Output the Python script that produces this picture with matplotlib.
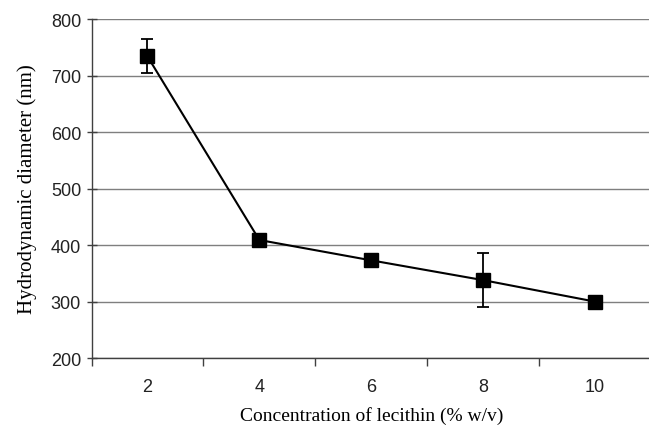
import matplotlib
matplotlib.use("Agg")
import matplotlib.pyplot as plt
import numpy as np

# данные графика
concentration = ["2", "4", "6", "8", "10"]
diameter = [734, 409, 373, 338, 300]
diameter_err = [30, 4, 4, 48, 3]

fig = plt.figure(figsize=(6.49, 4.27), dpi=100)
ax = fig.add_axes([0.141, 0.159, 0.862, 0.794])

x = np.arange(len(concentration))
ax.errorbar(x, diameter, yerr=diameter_err, color="black", lw=1.5,
            marker="s", ms=10, mec="black", mfc="black",
            ecolor="black", elinewidth=1.3, capsize=4, capthick=1.3, zorder=3)

ax.set_xlim(-0.5, len(concentration) - 0.5)
ax.set_ylim(200, 800)
ax.set_yticks(range(200, 801, 100))
ax.yaxis.grid(True, color="#7f7f7f", lw=1.0)
ax.set_axisbelow(True)

ax.set_xticks(x)
ax.set_xticklabels(concentration)
ax.set_xticks(np.arange(-0.5, len(concentration)), minor=True)
ax.tick_params(axis="x", which="major", length=0, pad=14)
ax.tick_params(axis="x", which="minor", length=6, width=1, color="#404040",
               direction="out")
ax.tick_params(axis="y", length=7, width=1, color="#404040", direction="inout",
               pad=4)
for lbl in ax.get_xticklabels() + ax.get_yticklabels():
    lbl.set_family("Liberation Sans")
    lbl.set_fontsize(13)
    lbl.set_color("#222222")

for side in ("top", "right"):
    ax.spines[side].set_visible(False)
for side in ("left", "bottom"):
    ax.spines[side].set_color("#404040")
    ax.spines[side].set_linewidth(1.0)

ax.set_xlabel("Concentration of lecithin (% w/v)", family="Liberation Serif",
              fontsize=14, labelpad=8)
ax.set_ylabel("Hydrodynamic diameter (nm)", family="Liberation Serif",
              fontsize=15, labelpad=10)

fig.savefig("out.png", dpi=100)
